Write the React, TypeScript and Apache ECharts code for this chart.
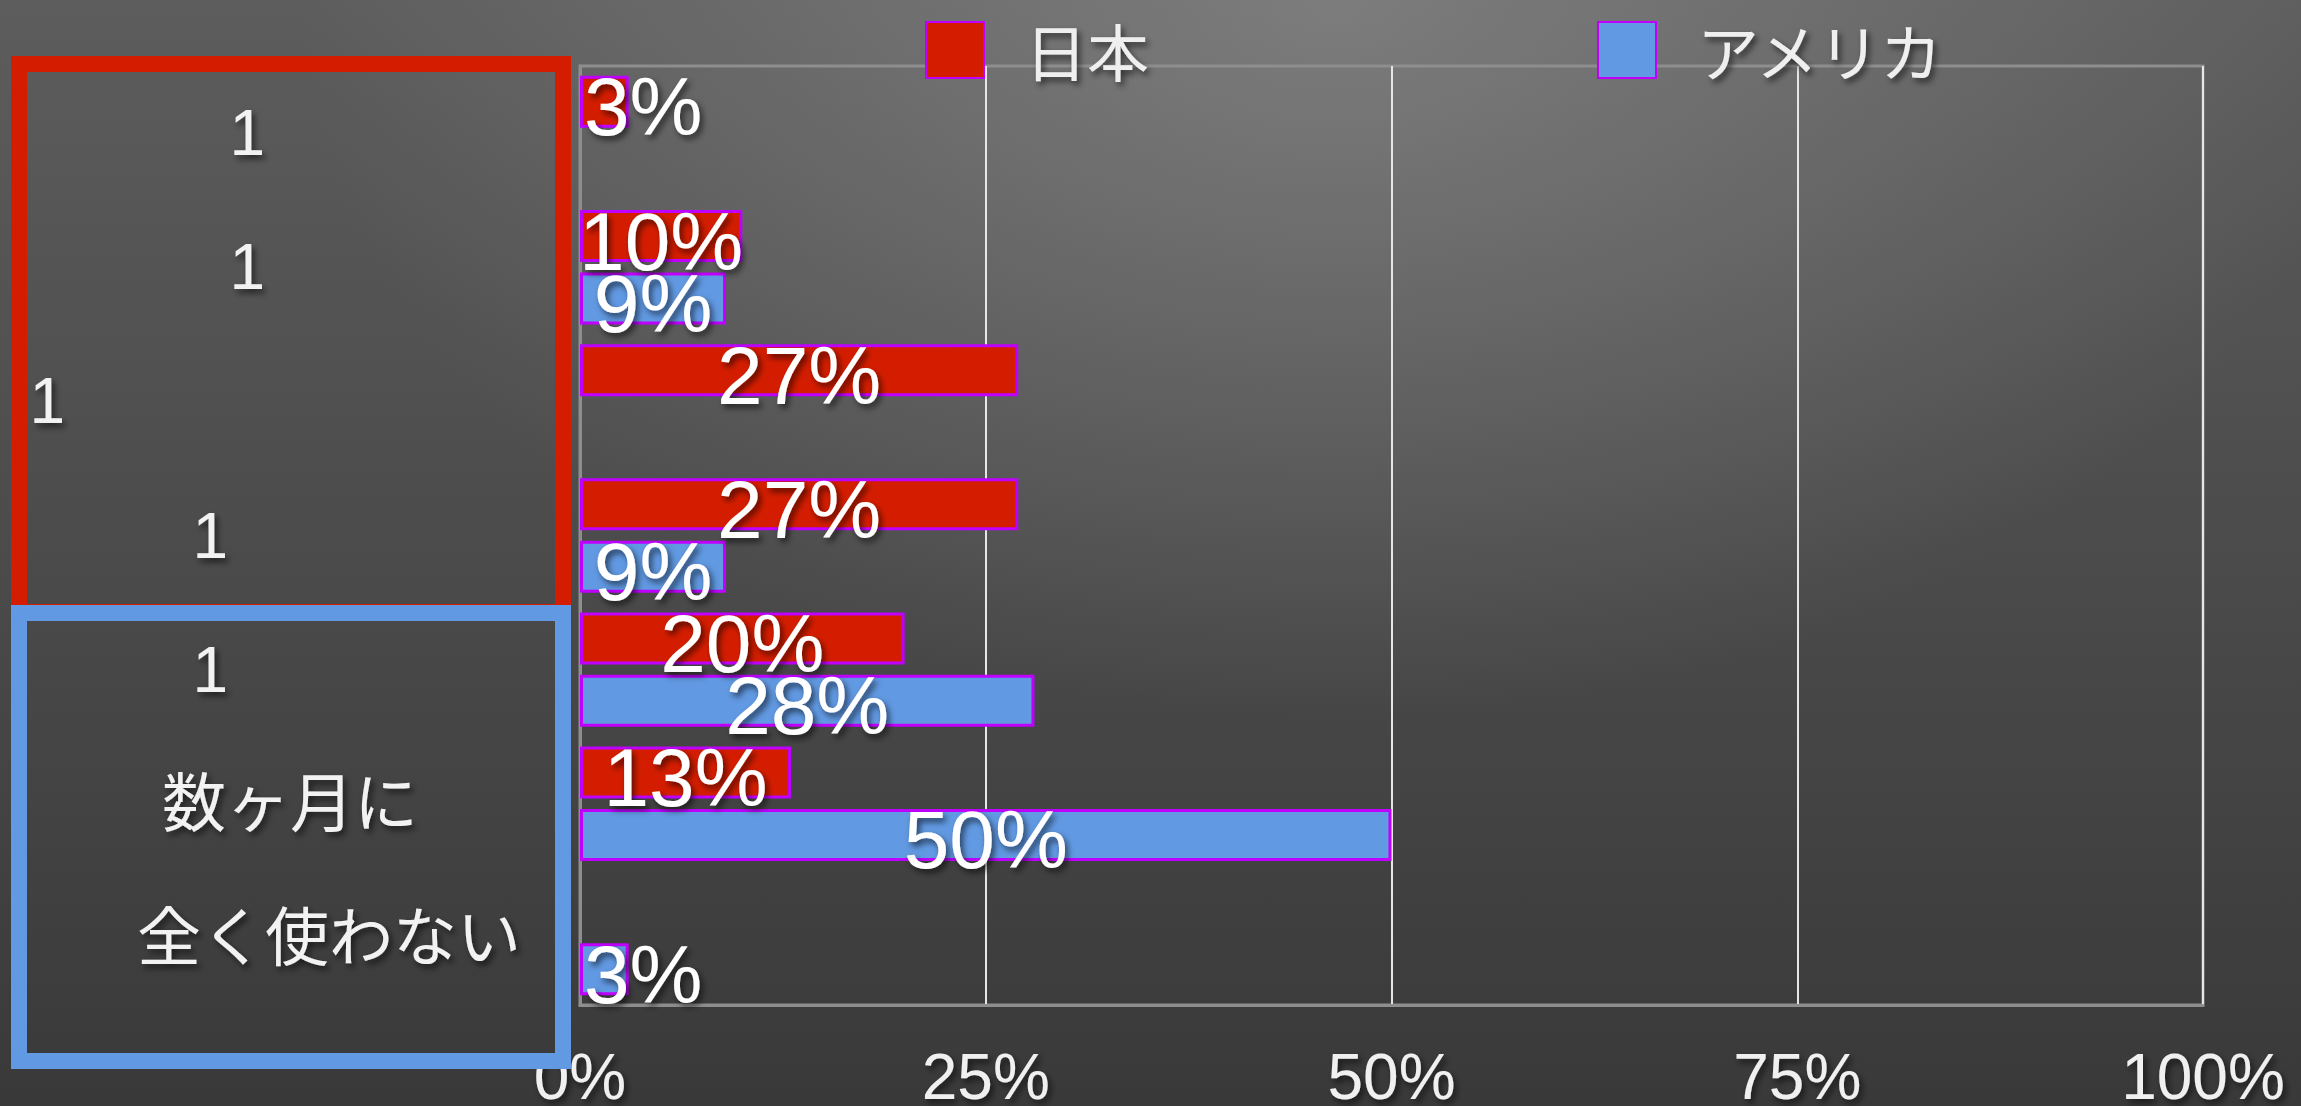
import React, { useEffect, useRef } from 'react';
import * as echarts from 'echarts';

// ---- data ----
const categories = ['1', '1', '1', '1', '1', '数ヶ月に', '全く使わない'];
const japanValues: (number | null)[] = [3, 10, 27, 27, 20, 13, null];
const usaValues: (number | null)[] = [null, 9, null, 9, 28, 50, 3];
const seriesNames = ['日本', 'アメリカ'];
const xTickMax = 100;
const xTickStep = 25;

const RED = '#d41d00';
const BLUE = '#6199e2';
const BORDER = '#c000ff';
const SHADOW = {
  textShadowColor: 'rgba(0,0,0,0.6)',
  textShadowBlur: 6,
  textShadowOffsetX: 3,
  textShadowOffsetY: 4,
};
const LATIN = '"Liberation Sans", Arial, "Noto Sans CJK JP", sans-serif';
const CJK = '"Noto Sans CJK JP", "Liberation Sans", sans-serif';

export default function App() {
  const ref = useRef<HTMLDivElement>(null);

  useEffect(() => {
    if (!ref.current) return;
    const chart = echarts.init(ref.current, undefined, { renderer: 'svg' });

    // category labels are right-aligned at the anchor; right padding moves each one left (style only)
    const labelMargin = 20;
    const anchorX = 580 - labelMargin;
    const labelRightEdges = [265, 265, 65, 228, 228, 418, 521];
    const yData = categories.map((c, i) => ({
      value: c,
      textStyle: { align: 'right', padding: [0, anchorX - labelRightEdges[i], 0, 0] },
    }));

    const toItems = (vals: (number | null)[]) =>
      vals.map((v) =>
        v == null
          ? '-'
          : v < 5
          ? { value: v, label: { position: 'insideLeft', distance: 4 } }
          : { value: v }
      );

    const barLabel = {
      show: true,
      position: 'inside',
      formatter: '{c}%',
      fontSize: 82,
      fontFamily: LATIN,
      color: '#ffffff',
      textBorderWidth: 0,
      offset: [0, 5],
      ...SHADOW,
    };

    const legendCommon = {
      top: 14,
      itemWidth: 58,
      itemHeight: 56,
      icon: 'rect',
      textStyle: {
        fontSize: 62,
        fontFamily: CJK,
        color: '#efefef',
        padding: [0, 0, 0, 36],
        ...SHADOW,
      },
    };

    chart.setOption({
      animation: false,
      backgroundColor: 'transparent',
      legend: [
        { ...legendCommon, data: [seriesNames[0]], left: 920 },
        { ...legendCommon, data: [seriesNames[1]], left: 1592 },
      ],
      grid: {
        left: 580,
        right: 98,
        top: 66,
        bottom: 101,
        containLabel: false,
        outerBoundsMode: 'none',
        show: true,
        borderColor: '#8e8e8e',
        borderWidth: 3,
        backgroundColor: 'transparent',
      },
      xAxis: {
        type: 'value',
        min: 0,
        max: xTickMax,
        interval: xTickStep,
        axisLine: { show: true, lineStyle: { color: '#8e8e8e', width: 3 } },
        axisTick: { show: false },
        splitLine: {
          show: true,
          showMinLine: false,
          lineStyle: { color: '#e6e6e6', width: 2 },
        },
        axisLabel: {
          formatter: '{value}%',
          margin: 40,
          fontSize: 64,
          fontFamily: '"Liberation Sans Narrow", "Liberation Sans", sans-serif',
          color: '#f0f0f0',
          ...SHADOW,
        },
      },
      yAxis: {
        type: 'category',
        data: yData,
        inverse: true,
        axisLine: { show: true, lineStyle: { color: '#8e8e8e', width: 3 } },
        axisTick: { show: false },
        splitLine: { show: false },
        axisLabel: {
          interval: 0,
          align: 'right',
          margin: labelMargin,
          fontSize: 64,
          fontFamily: LATIN,
          color: '#f2f2f2',
          ...SHADOW,
        },
      },
      series: [
        {
          name: seriesNames[0],
          type: 'bar',
          data: toItems(japanValues),
          barWidth: 52,
          barGap: '20%',
          itemStyle: { color: RED, borderColor: BORDER, borderWidth: 3 },
          label: barLabel,
        },
        {
          name: seriesNames[1],
          type: 'bar',
          data: toItems(usaValues),
          barWidth: 52,
          barGap: '20%',
          itemStyle: { color: BLUE, borderColor: BORDER, borderWidth: 3 },
          label: barLabel,
        },
      ],
      graphic: [
        {
          type: 'rect',
          shape: { x: 19, y: 64, width: 544, height: 548 },
          style: { fill: 'none', stroke: RED, lineWidth: 16 },
          z: 10,
        },
        {
          type: 'rect',
          shape: { x: 19, y: 613, width: 544, height: 448 },
          style: { fill: 'none', stroke: BLUE, lineWidth: 16 },
          z: 11,
        },
      ],
    });

    return () => chart.dispose();
  }, []);

  return (
    <div
      ref={ref}
      style={{
        position: 'fixed',
        left: 0,
        top: 0,
        width: 2301,
        height: 1106,
        background:
          'radial-gradient(ellipse 45% 65% at 58% 0%, rgba(150,150,150,0.55) 0%, rgba(150,150,150,0) 100%), linear-gradient(to bottom, #5d5d5d 0%, #4b4b4b 50%, #393939 100%)',
      }}
    />
  );
}
